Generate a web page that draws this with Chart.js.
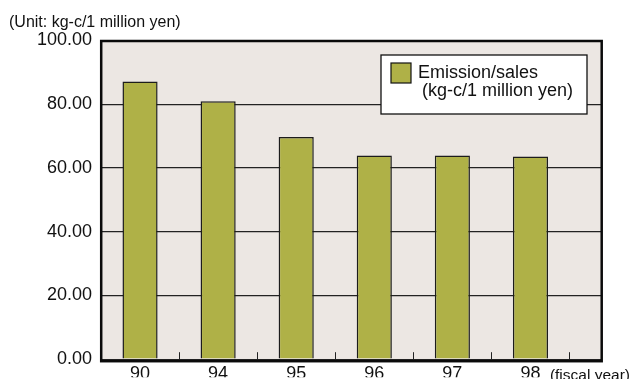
<!DOCTYPE html>
<html><head><meta charset="utf-8">
<script src="https://cdn.jsdelivr.net/npm/chart.js@4.4.1/dist/chart.umd.min.js"></script>
<style>html,body{margin:0;padding:0;background:#fff}#wrap{width:631px;height:379px}</style>
</head><body><div id="wrap"><canvas id="c" width="631" height="379"></canvas></div>
<script>
// Carbon emission per unit of sales, by fiscal year
const fiscalYears = ['90', '94', '95', '96', '97', '98'];
const emissionPerSales = [87.1, 80.9, 69.7, 63.9, 63.9, 63.6];
const seriesLabel = ['Emission/sales', '(kg-c/1 million yen)'];
const unitLabel = '(Unit: kg-c/1 million yen)';
const axisLabel = '(fiscal year)';

const FONT = '"Liberation Sans", Arial, Helvetica, sans-serif';
const BAR_COLOR = '#AFB147';
const PLOT_BG = '#ECE7E3';
const INK = '#111111';

const plotBackground = {
  id: 'plotBackground',
  beforeDraw(chart) {
    const {ctx, chartArea: a} = chart;
    ctx.save();
    ctx.fillStyle = PLOT_BG;
    ctx.fillRect(a.left, a.top, a.right - a.left, a.bottom - a.top);
    ctx.restore();
  }
};

const frameAndMarks = {
  id: 'frameAndMarks',
  afterDatasetsDraw(chart) {
    const {ctx, chartArea: a, scales} = chart;
    ctx.save();
    // inner tick marks between the year bands
    ctx.strokeStyle = '#222';
    ctx.lineWidth = 1;
    for (let i = 0; i < fiscalYears.length; i++) {
      const x = Math.round(scales.x.getPixelForValue(i + 0.5)) + 0.5;
      ctx.beginPath();
      ctx.moveTo(x, a.bottom);
      ctx.lineTo(x, a.bottom - 7);
      ctx.stroke();
    }
    // heavy frame around the plot
    ctx.strokeStyle = '#0a0a0a';
    ctx.lineWidth = 2.5;
    ctx.strokeRect(a.left + 0.2, a.top + 0.5, a.right - a.left, a.bottom - a.top + 1.5);
    ctx.restore();
  },
  afterDraw(chart) {
    const {ctx} = chart;
    const ds = chart.data.datasets[0];
    ctx.save();
    // legend box
    ctx.fillStyle = '#ffffff';
    ctx.fillRect(381, 55, 206, 59);
    ctx.strokeStyle = '#111';
    ctx.lineWidth = 1.3;
    ctx.strokeRect(381, 55, 206, 59);
    ctx.fillStyle = ds.backgroundColor;
    ctx.fillRect(391, 63, 20, 20);
    ctx.lineWidth = 1.2;
    ctx.strokeRect(391, 63, 20, 20);
    ctx.fillStyle = INK;
    ctx.font = '18px ' + FONT;
    ctx.textAlign = 'left';
    ctx.textBaseline = 'alphabetic';
    ctx.fillText(seriesLabel[0], 418, 78);
    ctx.fillText(seriesLabel[1], 422, 95.5);
    // unit and axis captions
    ctx.font = '16px ' + FONT;
    ctx.fillText(unitLabel, 9, 27);
    ctx.font = '15.5px ' + FONT;
    ctx.textAlign = 'right';
    ctx.fillText(axisLabel, 630, 379.5);
    ctx.restore();
  }
};

new Chart(document.getElementById('c'), {
  type: 'bar',
  data: {
    datasets: [{
      label: seriesLabel.join(' '),
      data: emissionPerSales.map((v, i) => ({x: i, y: v})),
      backgroundColor: BAR_COLOR,
      borderColor: '#1c1c1c',
      borderWidth: 1.5,
      borderSkipped: 'bottom',
      barPercentage: 0.45,
      categoryPercentage: 1
    }]
  },
  options: {
    responsive: false,
    devicePixelRatio: 1,
    animation: false,
    layout: {padding: {top: 40.5, right: 29.5, bottom: 0, left: 0}},
    plugins: {legend: {display: false}, tooltip: {enabled: false}},
    scales: {
      x: {
        type: 'linear',
        offset: false,
        min: -0.5,
        max: 5.91,
        afterBuildTicks(scale) {
          scale.ticks = fiscalYears.map((_, i) => ({value: i}));
        },
        afterFit(scale) { scale.height = 18; },
        grid: {display: false, drawTicks: false, tickLength: 0},
        border: {display: false},
        ticks: {
          autoSkip: false,
          maxRotation: 0,
          padding: 4,
          color: INK,
          font: {family: FONT, size: 18},
          callback: (v) => fiscalYears[v]
        }
      },
      y: {
        min: 0,
        max: 100,
        afterFit(scale) { scale.width = 101; },
        grid: {color: '#222', lineWidth: 1.2, drawTicks: false, tickLength: 0},
        border: {display: false},
        ticks: {
          stepSize: 20,
          padding: 9,
          color: INK,
          font: {family: FONT, size: 18},
          callback: (v) => Number(v).toFixed(2)
        }
      }
    }
  },
  plugins: [plotBackground, frameAndMarks]
});
</script></body></html>
